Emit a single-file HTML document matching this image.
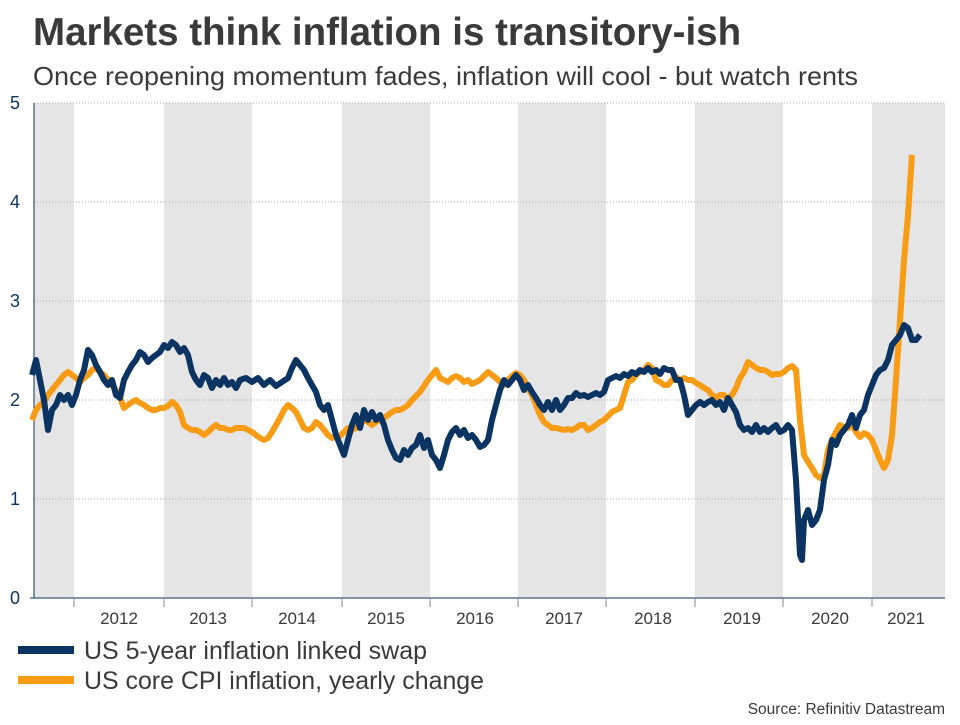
<!DOCTYPE html>
<html><head><meta charset="utf-8"><style>
body{margin:0;background:#fff;}
svg text{font-family:"Liberation Sans",sans-serif;}
</style></head><body>
<svg width="960" height="720" xmlns="http://www.w3.org/2000/svg">
<rect width="960" height="720" fill="#fff"/>
<text x="33" y="45" font-size="38.5" font-weight="bold" fill="#3a3a3a">Markets think inflation is transitory-ish</text>
<text x="33" y="85" font-size="26" fill="#3a3a3a" textLength="825" lengthAdjust="spacingAndGlyphs">Once reopening momentum fades, inflation will cool - but watch rents</text>
<g fill="#e5e5e5">
<rect x="34" y="103" width="40" height="495"/>
<rect x="164" y="103" width="88" height="495"/>
<rect x="342" y="103" width="88" height="495"/>
<rect x="518" y="103" width="88" height="495"/>
<rect x="695" y="103" width="88" height="495"/>
<rect x="872" y="103" width="73" height="495"/>
</g>
<g stroke="#aaa" stroke-width="1" stroke-dasharray="1,2">
<line x1="34" x2="945" y1="103" y2="103"/>
<line x1="34" x2="945" y1="202" y2="202"/>
<line x1="34" x2="945" y1="301" y2="301"/>
<line x1="34" x2="945" y1="400" y2="400"/>
<line x1="34" x2="945" y1="499" y2="499"/>
</g>
<line x1="34" y1="103" x2="34" y2="598" stroke="#0b3463" stroke-width="1"/>
<line x1="30" y1="598" x2="945" y2="598" stroke="#0b3463" stroke-width="1"/>
<g stroke="#888" stroke-width="1">
<line x1="74" x2="74" y1="598" y2="607"/><line x1="164" x2="164" y1="598" y2="607"/><line x1="252" x2="252" y1="598" y2="607"/><line x1="342" x2="342" y1="598" y2="607"/><line x1="430" x2="430" y1="598" y2="607"/><line x1="518" x2="518" y1="598" y2="607"/><line x1="606" x2="606" y1="598" y2="607"/><line x1="695" x2="695" y1="598" y2="607"/><line x1="783" x2="783" y1="598" y2="607"/><line x1="872" x2="872" y1="598" y2="607"/>
</g>
<g font-size="18" fill="#0b3463" text-anchor="middle">
<text x="15" y="109">5</text><text x="15" y="208">4</text><text x="15" y="307">3</text><text x="15" y="406">2</text><text x="15" y="505">1</text><text x="15" y="604">0</text>
</g>
<g font-size="17" fill="#3a3a3a" text-anchor="middle">
<text x="119" y="624">2012</text><text x="208" y="624">2013</text><text x="297" y="624">2014</text><text x="386" y="624">2015</text><text x="475" y="624">2016</text><text x="564" y="624">2017</text><text x="653" y="624">2018</text><text x="742" y="624">2019</text><text x="830" y="624">2020</text><text x="906" y="624">2021</text>
</g>
<polyline fill="none" stroke="#f79c14" stroke-width="6" stroke-linejoin="round" points="32,420 36,410 40,405 44,402 48,395 52,390 56,385 60,380 64,375 68,372 72,375 76,378 80,382 84,378 88,375 92,370 96,368 100,372 104,375 108,380 112,385 116,390 120,398 124,408 128,405 132,402 136,400 140,403 144,405 148,408 152,410 156,410 160,408 164,408 168,406 172,402 176,405 180,412 184,425 188,428 192,430 196,430 200,432 204,435 208,432 212,428 216,425 220,428 224,428 228,430 232,430 236,428 240,428 244,428 248,430 252,432 256,435 260,438 264,440 268,438 272,432 276,425 280,418 284,410 288,405 292,408 296,412 300,420 304,428 308,430 312,428 316,422 320,425 324,430 328,435 332,438 336,437 340,436 344,432 348,428 352,430 356,428 360,425 364,420 368,422 372,425 376,422 380,420 384,418 388,415 392,412 396,410 400,410 404,408 408,405 412,400 416,396 420,392 424,386 428,380 432,375 436,370 440,378 444,380 448,382 452,378 456,376 460,378 464,382 468,380 472,384 476,382 480,380 484,376 488,372 492,375 496,378 500,382 504,385 508,380 512,376 516,373 520,375 524,380 528,388 532,395 536,405 540,415 544,422 548,425 552,428 556,428 560,429 564,430 568,429 572,430 576,428 580,425 584,425 588,430 592,428 596,425 600,422 604,420 608,416 612,412 616,410 620,408 624,395 628,382 632,380 636,375 640,372 644,370 648,365 652,368 656,380 660,382 664,385 668,385 672,380 676,377 680,380 684,378 688,380 692,380 696,383 700,385 704,388 708,390 712,395 716,398 720,395 724,395 728,400 732,395 736,388 740,378 744,372 748,362 752,365 756,368 760,370 764,370 768,372 772,375 776,374 780,374 784,372 788,368 792,366 796,370 800,420 804,455 808,462 812,468 816,475 820,478 824,475 828,450 832,440 836,432 840,425 844,427 848,428 852,425 856,432 860,437 864,433 868,435 872,440 876,450 880,460 884,468 888,460 892,435 896,380 900,320 904,260 908,215 912,155"/>
<polyline fill="none" stroke="#0b3463" stroke-width="6" stroke-linejoin="round" points="32,375 36,360 40,380 44,400 48,430 52,410 56,405 60,395 64,400 68,395 72,405 76,395 80,380 84,370 88,350 92,355 96,365 100,372 104,380 108,385 112,380 116,395 120,398 124,380 128,372 132,365 136,360 140,352 144,355 148,362 152,358 156,355 160,352 164,345 168,348 172,342 176,345 180,352 184,348 188,355 192,372 196,380 200,385 204,375 208,378 212,388 216,380 220,385 224,378 228,385 232,382 236,388 240,380 246,378 252,382 258,378 264,385 270,380 276,386 282,382 288,378 292,368 296,360 300,365 304,370 308,378 312,385 316,392 320,405 324,410 328,405 332,420 336,435 340,445 344,455 348,440 352,425 356,415 360,428 364,410 368,420 372,412 376,420 380,415 384,425 388,440 392,450 396,458 400,460 404,450 408,455 412,448 416,445 420,435 424,448 428,440 432,455 436,460 440,468 444,455 448,440 452,432 456,428 460,435 464,430 468,438 472,435 476,440 480,447 484,445 488,440 492,420 496,405 500,390 504,380 508,385 512,380 516,375 520,380 524,390 528,385 532,392 536,398 540,405 544,410 548,402 552,410 556,400 560,410 564,405 568,398 572,398 576,393 580,396 584,395 588,397 592,395 596,393 600,395 604,392 608,380 612,378 616,376 620,378 624,374 628,376 632,372 636,374 640,370 644,372 648,368 652,372 656,370 660,374 664,368 668,370 672,370 676,380 680,380 684,395 688,415 692,410 696,405 700,402 704,405 708,402 712,400 716,405 720,402 724,410 728,398 732,405 736,412 740,425 744,430 748,428 752,432 756,425 760,432 764,428 768,432 772,428 776,425 780,432 784,430 788,425 792,430 796,480 800,555 802,560 804,520 808,510 812,525 816,520 820,510 824,480 828,465 832,440 836,445 840,435 844,430 848,425 852,415 856,428 860,415 864,410 868,395 872,385 876,375 880,370 884,368 888,360 892,345 896,340 900,335 904,325 908,328 912,340 916,340 920,335"/>
<rect x="18" y="646" width="56" height="8" fill="#0b3463"/>
<rect x="18" y="676" width="56" height="8" fill="#f79c14"/>
<text x="84" y="659" font-size="25" fill="#3a3a3a" textLength="343" lengthAdjust="spacingAndGlyphs">US 5-year inflation linked swap</text>
<text x="84" y="689" font-size="25" fill="#3a3a3a" textLength="400" lengthAdjust="spacingAndGlyphs">US core CPI inflation, yearly change</text>
<text x="945" y="714" font-size="15.5" fill="#3a3a3a" text-anchor="end">Source: Refinitiv Datastream</text>
</svg>
</body></html>
